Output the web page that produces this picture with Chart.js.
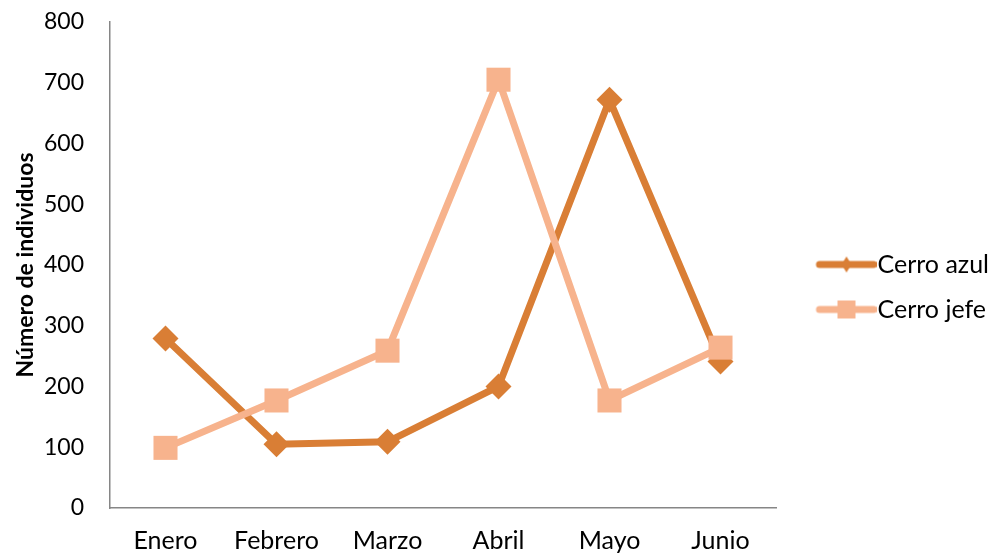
<!DOCTYPE html>
<html>
<head>
<meta charset="utf-8">
<script src="https://cdn.jsdelivr.net/npm/chart.js@4/dist/chart.umd.min.js"></script>
<style>
  html, body { margin: 0; padding: 0; background: #ffffff; }
  #wrap { width: 988px; height: 554px; position: relative; }
</style>
</head>
<body>
<div id="wrap"><canvas id="c" width="988" height="554"></canvas></div>
<script>
const categories = ['Enero', 'Febrero', 'Marzo', 'Abril', 'Mayo', 'Junio'];
const cerroAzul = [279, 105, 109, 200, 672, 241];
const cerroJefe = [99, 177, 259, 705, 177, 264];
const seriesNames = ['Cerro azul', 'Cerro jefe'];
const yTitle = 'Número de individuos';
const yMin = 0, yMax = 800, yStep = 100;

const colAzul = '#D97E35';
const colJefe = '#F7B38D';
const FONT = 'Lato, "Open Sans", sans-serif';

function legendIcon(color, shape) {
  const w = 92, h = 30;
  const cv = document.createElement('canvas');
  cv.width = w; cv.height = h;
  const g = cv.getContext('2d');
  const cy = h / 2;
  g.strokeStyle = color;
  g.lineWidth = 7;
  g.lineCap = 'round';
  g.beginPath();
  g.moveTo(35, cy);
  g.lineTo(89, cy);
  g.stroke();
  g.fillStyle = color;
  const cx = 62;
  if (shape === 'diamond') {
    g.beginPath();
    g.moveTo(cx - 5, cy); g.lineTo(cx, cy - 8); g.lineTo(cx + 5, cy); g.lineTo(cx, cy + 8);
    g.closePath(); g.fill();
  } else {
    g.fillRect(cx - 9, cy - 9, 18, 18);
  }
  return cv;
}
const iconAzul = legendIcon(colAzul, 'diamond');
const iconJefe = legendIcon(colJefe, 'square');

const fitPlugin = {
  id: 'fitPlugin',
  afterLayout(chart) {
    const lg = chart.legend;
    if (lg) { lg.top -= 1; lg.bottom -= 1; }
  }
};

new Chart(document.getElementById('c'), {
  type: 'line',
  data: {
    labels: categories,
    datasets: [
      {
        label: seriesNames[0],
        data: cerroAzul,
        borderColor: colAzul,
        backgroundColor: colAzul,
        borderWidth: 7,
        pointStyle: 'rectRot',
        pointRadius: 13,
        pointHoverRadius: 13,
        pointBorderWidth: 0,
        pointBackgroundColor: colAzul,
        tension: 0,
        order: 1
      },
      {
        label: seriesNames[1],
        data: cerroJefe,
        borderColor: colJefe,
        backgroundColor: colJefe,
        borderWidth: 7,
        pointStyle: 'rect',
        pointRadius: 17,
        pointHoverRadius: 17,
        pointBorderWidth: 0,
        pointBackgroundColor: colJefe,
        tension: 0,
        order: 0
      }
    ]
  },
  options: {
    responsive: false,
    animation: false,
    events: [],
    layout: { padding: { top: 22, left: 0, right: 0, bottom: 0 } },
    plugins: {
      tooltip: { enabled: false },
      legend: {
        position: 'right',
        align: 'center',
        maxWidth: 212,
        labels: {
          usePointStyle: true,
          pointStyleWidth: 69,
          boxHeight: 20,
          padding: 20,
          color: '#000000',
          font: { family: FONT, size: 25 },
          sort: (a, b) => a.datasetIndex - b.datasetIndex,
          generateLabels(chart) {
            return seriesNames.map((n, i) => ({
              text: n,
              datasetIndex: i,
              pointStyle: i === 0 ? iconAzul : iconJefe,
              fillStyle: 'rgba(0,0,0,0)',
              strokeStyle: 'rgba(0,0,0,0)',
              lineWidth: 0,
              hidden: false,
              fontColor: '#000000'
            }));
          }
        }
      }
    },
    scales: {
      x: {
        offset: true,
        grid: { display: false, drawTicks: false },
        border: { display: true, color: '#868686', width: 1.5 },
        ticks: { color: '#000000', font: { family: FONT, size: 25 }, padding: 18, maxRotation: 0, autoSkip: false },
        afterFit(scale) { scale.height = 46; scale.paddingLeft = 0; scale.paddingRight = 0; }
      },
      y: {
        min: yMin,
        max: yMax,
        grid: { display: false, drawTicks: false },
        border: { display: true, color: '#868686', width: 1.5 },
        ticks: { stepSize: yStep, color: '#000000', font: { family: FONT, size: 23 }, padding: 26 },
        title: { display: true, text: yTitle, color: '#000000', font: { family: FONT, size: 23, weight: 'bold' }, padding: { top: 12, bottom: 0 } },
        afterFit(scale) { scale.width = 110; scale.paddingTop = 0; scale.paddingBottom = 0; }
      }
    }
  },
  plugins: [fitPlugin]
});
</script>
</body>
</html>
